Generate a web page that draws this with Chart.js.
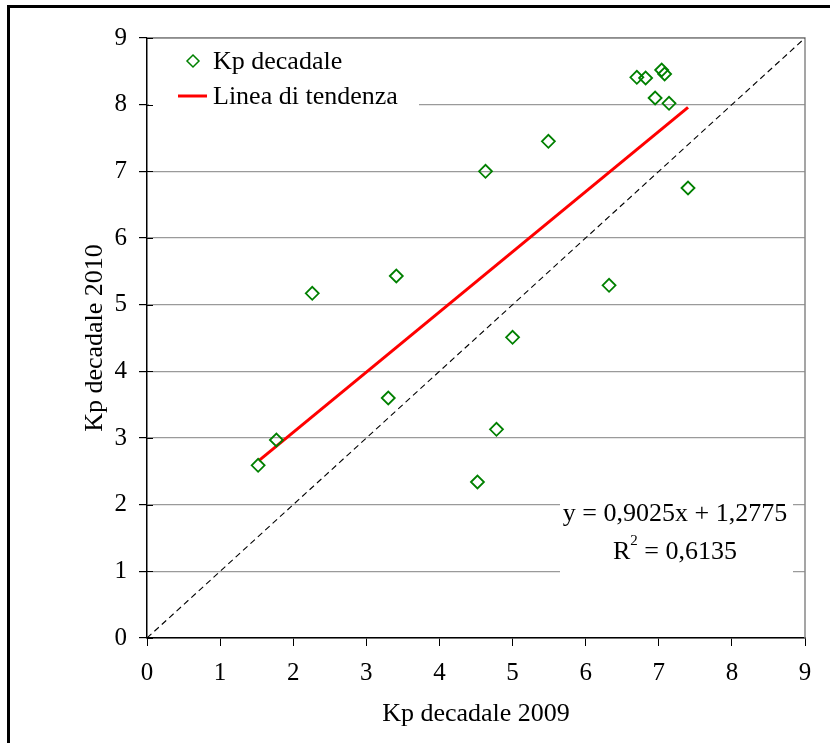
<!DOCTYPE html>
<html>
<head>
<meta charset="utf-8">
<script src="https://cdn.jsdelivr.net/npm/chart.js@4.4.1/dist/chart.umd.min.js"></script>
<style>
  html, body { margin: 0; padding: 0; background: #fff; }
  canvas { display: block; }
</style>
</head>
<body>
<canvas id="grafico" width="830" height="743"></canvas>
<script>
/* ================= DATI ================= */
const kp2009 = [1.52, 1.77, 2.26, 3.30, 3.41, 4.52, 4.63, 4.78, 5.00, 5.49, 6.32, 6.70, 6.82, 6.95, 7.04, 7.08, 7.14, 7.40];
const kp2010 = [2.59, 2.97, 5.17, 3.60, 5.43, 2.34, 7.00, 3.13, 4.51, 7.45, 5.29, 8.41, 8.40, 8.10, 8.52, 8.46, 8.02, 6.75];

const trendX = [1.53, 7.40];
const trendY = [2.66, 7.96];

const diagX = [0, 9];
const diagY = [0, 9];

const equazione = "y = 0,9025x + 1,2775";
const r2Valore = " = 0,6135";

const FONT = "'Liberation Serif', 'Times New Roman', serif";
const VERDE = "#008000";
const ROSSO = "#ff0000";
const GRIGIO = "#9a9a9a";

/* ================= PLUGIN ================= */
const decorazioni = {
  id: "decorazioni",
  beforeDraw(chart) {
    const ctx = chart.ctx;
    ctx.save();
    ctx.fillStyle = "#fff";
    ctx.fillRect(0, 0, chart.width, chart.height);
    ctx.fillStyle = "#000";
    ctx.fillRect(7, 5, chart.width, 3);
    ctx.fillRect(7, 5, 3, chart.height);
    ctx.restore();
  },
  beforeDatasetsDraw(chart) {
    const { ctx, chartArea: a, scales: { y } } = chart;
    ctx.save();
    // bordo superiore e destro
    ctx.strokeStyle = "#888";
    ctx.lineWidth = 1.5;
    ctx.beginPath();
    ctx.moveTo(a.left, a.top);
    ctx.lineTo(a.right, a.top);
    ctx.lineTo(a.right, a.bottom);
    ctx.stroke();

    // riquadri bianchi di legenda ed equazione
    ctx.fillStyle = "#fff";
    ctx.fillRect(a.left + 2, a.top + 2, 270, 76);
    ctx.fillRect(560, 498, 233, 78);

    // tacche interne asse y
    ctx.strokeStyle = "#000";
    ctx.lineWidth = 1;
    y.ticks.forEach(t => {
      const py = Math.round(y.getPixelForValue(t.value)) + 0.5;
      ctx.beginPath();
      ctx.moveTo(a.left, py);
      ctx.lineTo(a.left + 6, py);
      ctx.stroke();
    });
    ctx.restore();
  },
  afterDatasetsDraw(chart) {
    const ctx = chart.ctx;
    ctx.save();
    ctx.font = "26px " + FONT;
    ctx.fillStyle = "#000";
    ctx.textBaseline = "middle";

    // legenda
    const punti = chart.data.datasets[0];
    const linea = chart.data.datasets[1];
    ctx.strokeStyle = punti.borderColor;
    ctx.lineWidth = 1.5;
    ctx.beginPath();
    ctx.moveTo(193, 55);
    ctx.lineTo(199, 61);
    ctx.lineTo(193, 67);
    ctx.lineTo(187, 61);
    ctx.closePath();
    ctx.stroke();
    ctx.fillText(punti.label, 213, 62);

    ctx.strokeStyle = linea.borderColor;
    ctx.lineWidth = linea.borderWidth;
    ctx.beginPath();
    ctx.moveTo(178, 96);
    ctx.lineTo(207, 96);
    ctx.stroke();
    ctx.fillText(linea.label, 213, 97);

    // equazione
    ctx.textAlign = "center";
    ctx.fillText(equazione, 675, 514);
    const wR = ctx.measureText("R").width;
    ctx.font = "15px " + FONT;
    const w2 = ctx.measureText("2").width;
    ctx.font = "26px " + FONT;
    const wV = ctx.measureText(r2Valore).width;
    const tot = wR + w2 + wV;
    let x0 = 675 - tot / 2;
    ctx.textAlign = "left";
    ctx.fillText("R", x0, 552);
    ctx.font = "15px " + FONT;
    ctx.fillText("2", x0 + wR, 541);
    ctx.font = "26px " + FONT;
    ctx.fillText(r2Valore, x0 + wR + w2, 552);
    ctx.restore();
  }
};

/* ================= GRAFICO ================= */
new Chart(document.getElementById("grafico"), {
  type: "scatter",
  data: {
    datasets: [
      {
        label: "Kp decadale",
        data: kp2009.map((x, i) => ({ x, y: kp2010[i] })),
        pointStyle: "rectRot",
        pointRadius: 6.5,
        borderColor: VERDE,
        backgroundColor: "rgba(0,0,0,0)",
        borderWidth: 1.8,
        order: 0
      },
      {
        label: "Linea di tendenza",
        type: "line",
        data: trendX.map((x, i) => ({ x, y: trendY[i] })),
        borderColor: ROSSO,
        borderWidth: 3,
        pointRadius: 0,
        fill: false,
        order: 1
      },
      {
        label: "bisettrice",
        type: "line",
        data: diagX.map((x, i) => ({ x, y: diagY[i] })),
        borderColor: "#000",
        borderWidth: 1.1,
        borderDash: [6, 4],
        pointRadius: 0,
        fill: false,
        order: 2
      }
    ]
  },
  options: {
    responsive: false,
    animation: false,
    devicePixelRatio: 1,
    layout: { padding: { left: 0, top: 38, right: 25, bottom: 0 } },
    plugins: {
      legend: { display: false },
      tooltip: { enabled: false }
    },
    scales: {
      x: {
        type: "linear",
        min: 0,
        max: 9,
        ticks: { stepSize: 1, padding: 12, color: "#000", font: { family: FONT, size: 25 } },
        grid: { drawOnChartArea: false, tickLength: 8, tickColor: "#000" },
        border: { color: "#000", width: 1.5 },
        title: {
          display: true,
          text: "Kp decadale 2009",
          color: "#000",
          font: { family: FONT, size: 26 },
          padding: { top: 0, bottom: 13 }
        },
        afterFit(s) { s.height = 105; }
      },
      y: {
        type: "linear",
        min: 0,
        max: 9,
        ticks: { stepSize: 1, padding: 12, color: "#000", font: { family: FONT, size: 25 } },
        grid: { color: GRIGIO, lineWidth: 1.2, tickLength: 8, tickColor: "#000" },
        border: { color: "#000", width: 1.5 },
        title: {
          display: true,
          text: "Kp decadale 2010",
          color: "#000",
          font: { family: FONT, size: 26 },
          padding: { top: 80, bottom: 0 }
        },
        afterFit(s) { s.width = 147; }
      }
    }
  },
  plugins: [decorazioni]
});
</script>
</body>
</html>
